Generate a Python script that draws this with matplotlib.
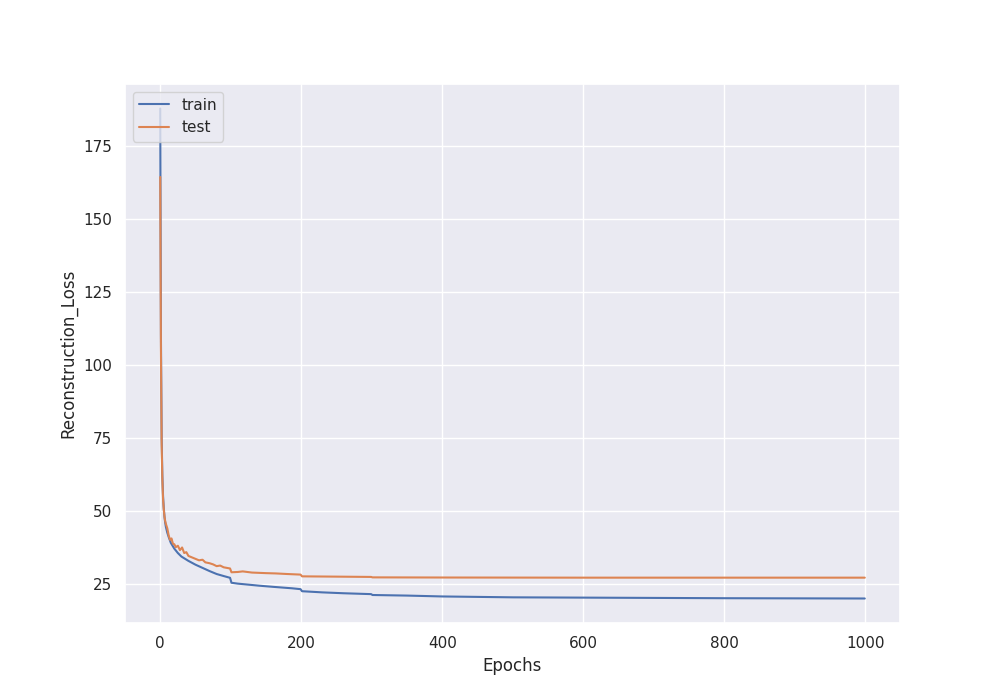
import matplotlib
matplotlib.use("Agg")
import matplotlib.pyplot as plt
import seaborn as sns

sns.set_theme()

train_epochs = [0, 1, 2, 3, 4, 5, 6, 7, 8, 10, 12, 15, 20, 25, 30, 40, 50, 60, 70, 80, 90, 99,
                101, 110, 140, 160, 187, 199, 201, 230, 260, 299, 301, 350, 400, 450, 500,
                600, 700, 800, 900, 999]
train_loss = [188.0, 110.0, 75.0, 62.0, 55.0, 51.0, 48.0, 46.0, 44.5, 42.5, 41.0, 39.0, 37.0,
              35.5, 34.3, 32.8, 31.5, 30.4, 29.3, 28.3, 27.6, 27.0,
              25.3, 25.0, 24.3, 23.9, 23.4, 23.1, 22.4, 22.0, 21.7, 21.4, 21.1, 20.9, 20.6,
              20.45, 20.3, 20.2, 20.1, 20.0, 19.95, 19.9]

test_epochs = [0, 1, 2, 3, 4, 5, 6, 7, 8, 10, 12, 14, 16, 18, 20, 22, 25, 28, 31, 34, 37, 40,
               45, 50, 55, 60, 64, 70, 75, 80, 85, 90, 99, 101, 110, 117, 130, 150, 164, 180,
               199, 201, 250, 299, 301, 400, 600, 800, 999]
test_loss = [164.5, 105.0, 73.0, 61.0, 54.0, 50.5, 48.0, 46.5, 45.5, 44.0, 41.5, 40.0, 40.5,
             38.7, 38.5, 37.5, 38.0, 36.5, 37.4, 35.5, 35.8, 34.5, 34.0, 33.5, 33.0, 33.2,
             32.3, 32.0, 31.6, 31.0, 31.2, 30.6, 30.2, 28.9, 29.0, 29.2, 28.8, 28.6, 28.5,
             28.3, 28.1, 27.5, 27.4, 27.3, 27.15, 27.1, 27.05, 27.05, 27.05]

fig = plt.figure(figsize=(10, 7), dpi=100)
plt.plot(train_epochs, train_loss, label='train')
plt.plot(test_epochs, test_loss, label='test')
plt.xlabel('Epochs')
plt.ylabel('Reconstruction_Loss')
plt.legend(loc='upper left')
plt.savefig('out.png')
